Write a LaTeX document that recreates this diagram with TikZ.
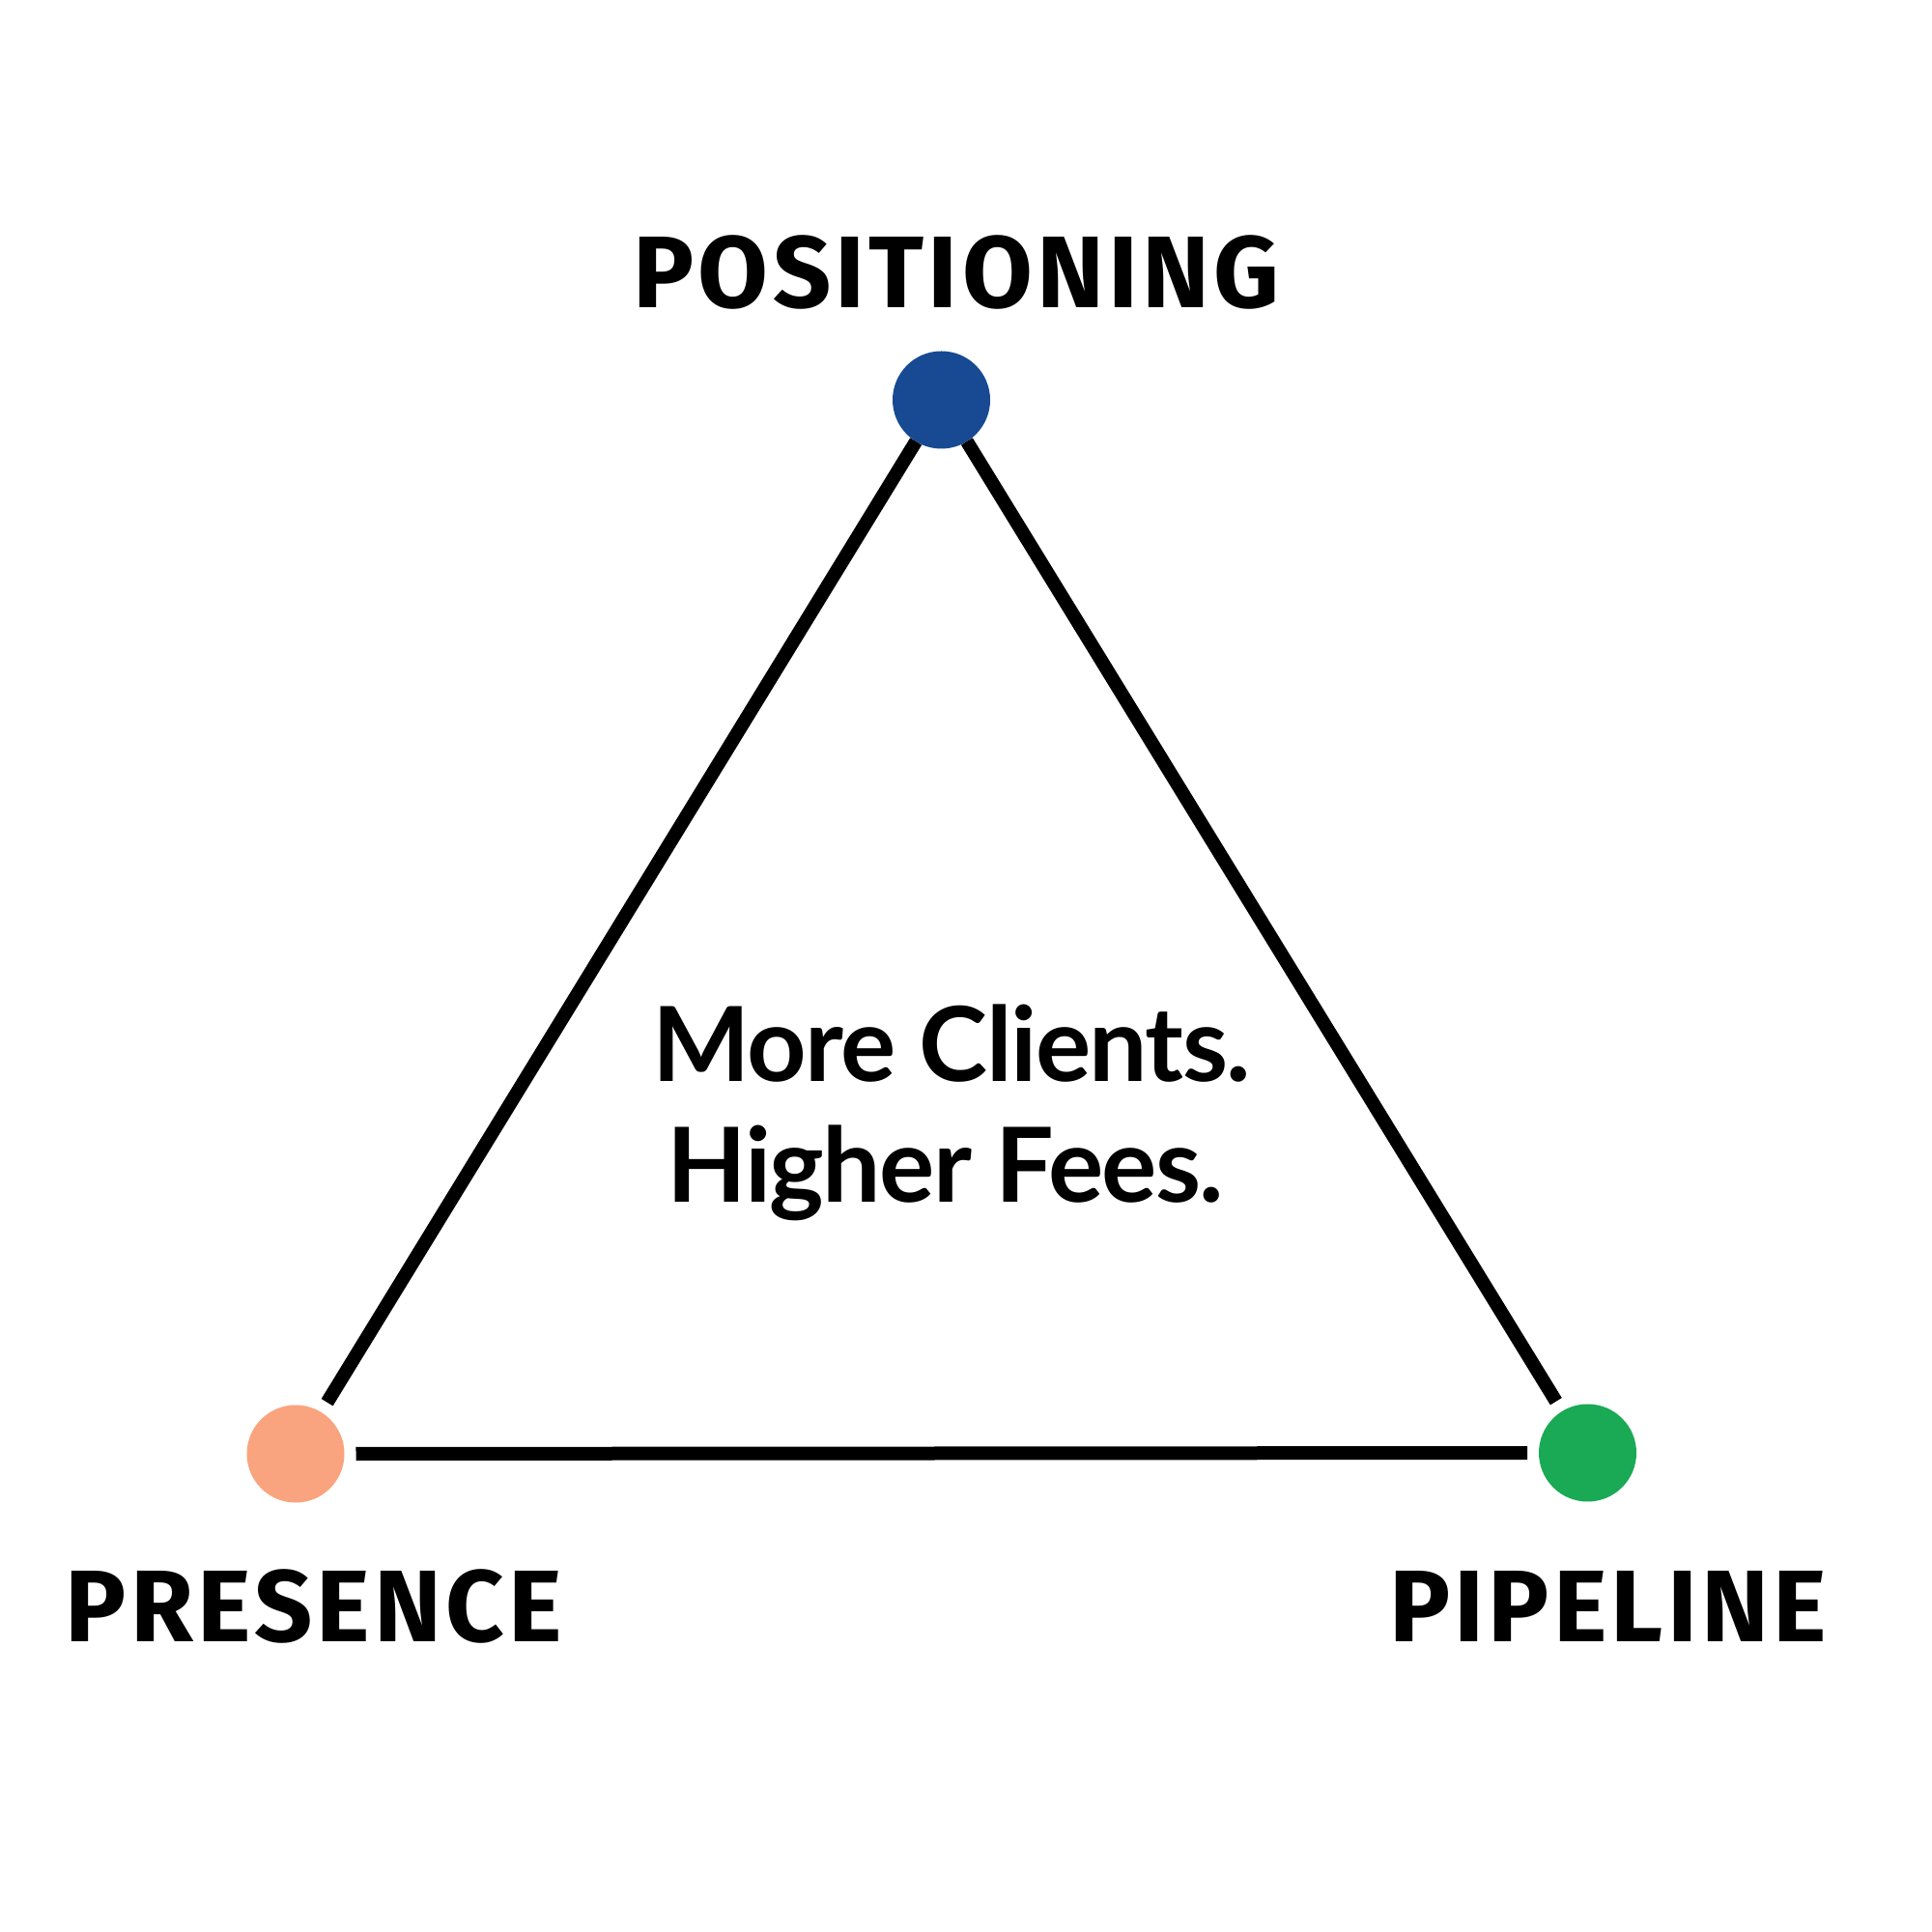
\documentclass[tikz,border=0pt]{standalone}
\usepackage{fontspec}
\usepackage{tikz}
\usetikzlibrary{positioning}
\newfontfamily\labelfont{Fira Sans}[UprightFont=* Bold,LetterSpace=4]
\newfontfamily\gainfont{Lato}[UprightFont=* Bold,LetterSpace=-1.5]
\definecolor{posblue}{HTML}{174A93}
\definecolor{preorange}{HTML}{F9A47E}
\definecolor{pipegreen}{HTML}{1AAA55}

\begin{document}
\begin{tikzpicture}[
    dot/.style={circle,fill=#1,draw=none,minimum size=1.01cm,inner sep=0pt,outer sep=0.12cm},
    side/.style={line width=0.14cm,black},
    pillar/.style={font=\labelfont\fontsize{30}{36}\selectfont,anchor=base,inner sep=0pt},
    gain/.style={font=\gainfont\fontsize{30.5}{36}\selectfont,anchor=base,inner sep=0pt}
  ]
  \useasboundingbox (0,0) rectangle (20,20);
  % the three corners
  \node[dot=posblue,outer sep=0pt] (pos) at (9.745,15.86) {};
  \node[dot=preorange] (pre) at (3.06,4.95) {};
  \node[dot=pipegreen] (pipe) at (16.435,4.96) {};
  \draw[side] (pos) -- (pre);
  \draw[side] (pre) -- (pipe);
  \draw[side] (pipe) -- (pos);

  \node[pillar] (posl) at (9.9,16.81) {POSITIONING};
  \node[pillar] (prel) at (3.25,3.0) {PRESENCE};
  \node[pillar] (pipel) at (16.645,3.0) {PIPELINE};

  \node[gain] (gaina) at (9.85,8.8) {More Clients.};
  \node[gain] (gainb) at (9.79,7.55) {Higher Fees.};
\end{tikzpicture}
\end{document}
